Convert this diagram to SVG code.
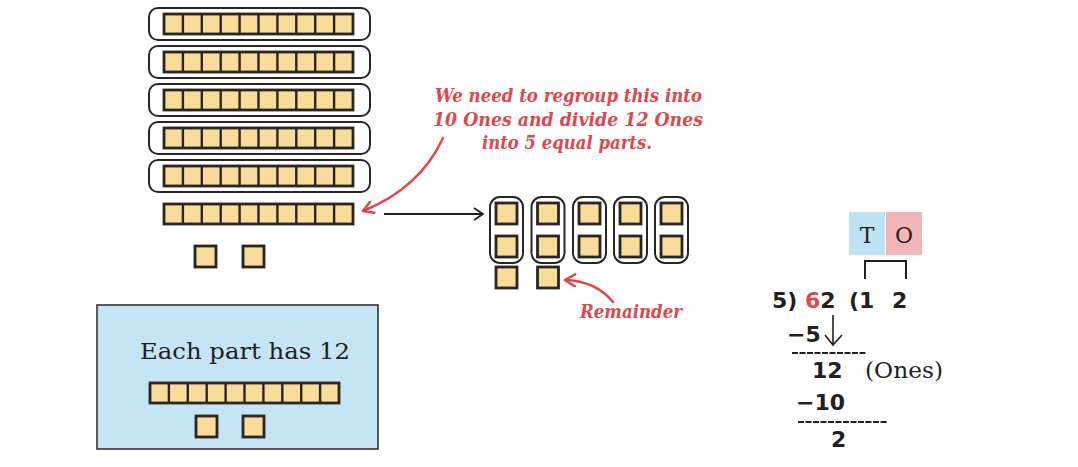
<svg xmlns="http://www.w3.org/2000/svg" xmlns:xlink="http://www.w3.org/1999/xlink" width="1078" height="467" viewBox="0 0 1078 467">
  <style>
    .cell { fill: #f9dc9a; stroke: #2a2522; stroke-width: 2.8; }
    .sep { stroke: #2a2522; stroke-width: 2.4; }
    .group { fill: #ffffff; stroke: #2a2522; stroke-width: 2; }
    .note { font-family: "DejaVu Serif", "Liberation Serif", serif; font-style: italic; font-weight: bold; font-size: 18px; fill: #e0474c; }
    .serif { font-family: "DejaVu Serif", "Liberation Serif", serif; fill: #231f20; }
    .num { font-family: "DejaVu Sans", "Liberation Sans", sans-serif; font-weight: bold; fill: #231f20; font-size: 22px; }
    .red-arrow { fill: none; stroke: #e0474c; stroke-width: 2.5; stroke-linecap: round; }
    .blk-arrow { fill: none; stroke: #231f20; stroke-width: 1.8; }
    .dash { stroke: #231f20; stroke-width: 2.2; stroke-dasharray: 6 1.5; }
  </style>
  <defs>
    <!-- a rod of ten unit cubes -->
    <g id="ten">
      <rect class="cell" x="0" y="0" width="189" height="20"/>
      <path class="sep" d="M18.9,0V20M37.8,0V20M56.7,0V20M75.6,0V20M94.5,0V20M113.4,0V20M132.3,0V20M151.2,0V20M170.1,0V20"/>
    </g>
    <!-- a single unit cube -->
    <rect id="one" class="cell" x="0" y="0" width="21" height="21"/>
    <marker id="chev-red" viewBox="0 0 14 14" refX="12" refY="7" markerWidth="14" markerHeight="14" markerUnits="userSpaceOnUse" orient="auto">
      <path d="M2,1 L12,7 L2,13" fill="none" stroke="#e0474c" stroke-width="2.5" stroke-linecap="round" stroke-linejoin="round"/>
    </marker>
    <marker id="chev-blk" viewBox="0 0 14 14" refX="12" refY="7" markerWidth="14" markerHeight="14" markerUnits="userSpaceOnUse" orient="auto">
      <path d="M3,1 L12,7 L3,13" fill="none" stroke="#231f20" stroke-width="1.8"/>
    </marker>
  </defs>

  <rect x="0" y="0" width="1078" height="467" fill="#ffffff"/>

  <!-- 62 as blocks: five grouped tens, one loose ten, two ones -->
  <g id="tens-stack">
    <rect class="group" x="149" y="8" width="221" height="32" rx="9"/>
    <use xlink:href="#ten" x="164" y="14"/>
    <rect class="group" x="149" y="46" width="221" height="32" rx="9"/>
    <use xlink:href="#ten" x="164" y="52"/>
    <rect class="group" x="149" y="84" width="221" height="32" rx="9"/>
    <use xlink:href="#ten" x="164" y="90"/>
    <rect class="group" x="149" y="122" width="221" height="32" rx="9"/>
    <use xlink:href="#ten" x="164" y="128"/>
    <rect class="group" x="149" y="160" width="221" height="32" rx="9"/>
    <use xlink:href="#ten" x="164" y="166"/>
  </g>
  <g id="loose-ten">
    <use xlink:href="#ten" x="164" y="204"/>
  </g>
  <g id="loose-ones">
    <use xlink:href="#one" x="195" y="246"/>
    <use xlink:href="#one" x="243" y="246"/>
  </g>

  <!-- note about regrouping -->
  <g id="regroup-note">
    <text class="note" x="435" y="102" textLength="267" lengthAdjust="spacingAndGlyphs">We need to regroup this into</text>
    <text class="note" x="433" y="126" textLength="270" lengthAdjust="spacingAndGlyphs">10 Ones and divide 12 Ones</text>
    <text class="note" x="482" y="149" textLength="170" lengthAdjust="spacingAndGlyphs">into 5 equal parts.</text>
  </g>

  <!-- twelve ones shared into five columns -->
  <g id="shared-ones">
    <rect class="group" x="490" y="197" width="33" height="66" rx="10"/>
    <rect class="group" x="531.5" y="197" width="33" height="66" rx="10"/>
    <rect class="group" x="573" y="197" width="33" height="66" rx="10"/>
    <rect class="group" x="614" y="197" width="33" height="66" rx="10"/>
    <rect class="group" x="655" y="197" width="33" height="66" rx="10"/>
    <use xlink:href="#one" x="496" y="203"/>
    <use xlink:href="#one" x="496" y="236"/>
    <use xlink:href="#one" x="537.5" y="203"/>
    <use xlink:href="#one" x="537.5" y="236"/>
    <use xlink:href="#one" x="579" y="203"/>
    <use xlink:href="#one" x="579" y="236"/>
    <use xlink:href="#one" x="620" y="203"/>
    <use xlink:href="#one" x="620" y="236"/>
    <use xlink:href="#one" x="661" y="203"/>
    <use xlink:href="#one" x="661" y="236"/>
  </g>
  <g id="remainder-ones">
    <use xlink:href="#one" x="496" y="267"/>
    <use xlink:href="#one" x="537.5" y="267"/>
  </g>
  <g id="remainder-label">
    <text class="note" x="580" y="318" textLength="102" lengthAdjust="spacingAndGlyphs">Remainder</text>
  </g>

  <!-- result box -->
  <g id="result">
    <rect x="97" y="305" width="281" height="144" fill="#c5e5f5" stroke="#333333" stroke-width="1.6"/>
    <text class="serif" x="140" y="359" font-size="22" textLength="210" lengthAdjust="spacingAndGlyphs">Each part has 12</text>
    <use xlink:href="#ten" x="150" y="383"/>
    <use xlink:href="#one" x="196" y="416"/>
    <use xlink:href="#one" x="243" y="416"/>
  </g>

  <!-- place value header -->
  <g id="place-value">
    <rect x="849" y="212" width="36" height="43" fill="#bde3f5"/>
    <rect x="886" y="212" width="36" height="43" fill="#f2b5b8"/>
    <text class="serif" x="867" y="243" text-anchor="middle" font-size="22">T</text>
    <text class="serif" x="904" y="243" text-anchor="middle" font-size="22">O</text>
    <path d="M865,279 V261 H906 V279" fill="none" stroke="#231f20" stroke-width="2"/>
  </g>

  <!-- long division 62 ÷ 5 -->
  <g id="division">
    <text class="num" x="772" y="308" font-size="23">5)</text>
    <text class="num" x="805" y="308" font-size="23"><tspan fill="#e0474c">6</tspan>2</text>
    <text class="num" x="849" y="308" font-size="23">(1</text>
    <text class="num" x="892" y="308" font-size="23">2</text>
    <text class="num" x="787" y="342">−5</text>
    <path d="M833,315 V345 M825,335 L833,345 L842,335" fill="none" stroke="#231f20" stroke-width="1.6"/>
    <line class="dash" x1="792" y1="353" x2="867" y2="353"/>
    <text class="num" x="812" y="378">12</text>
    <text class="serif" x="865" y="378" font-size="22" textLength="78" lengthAdjust="spacingAndGlyphs">(Ones)</text>
    <text class="num" x="796" y="410">−10</text>
    <line class="dash" x1="798" y1="422" x2="888" y2="422"/>
    <text class="num" x="831" y="447">2</text>
  </g>

  <!-- connectors -->
  <g id="connectors">
    <path class="red-arrow" d="M443,138 Q420,188 363,211" marker-end="url(#chev-red)"/>
    <line class="blk-arrow" x1="384" y1="214" x2="483" y2="214" marker-end="url(#chev-blk)"/>
    <path class="red-arrow" d="M613,302 Q596,281 565,280" marker-end="url(#chev-red)"/>
  </g>
</svg>
